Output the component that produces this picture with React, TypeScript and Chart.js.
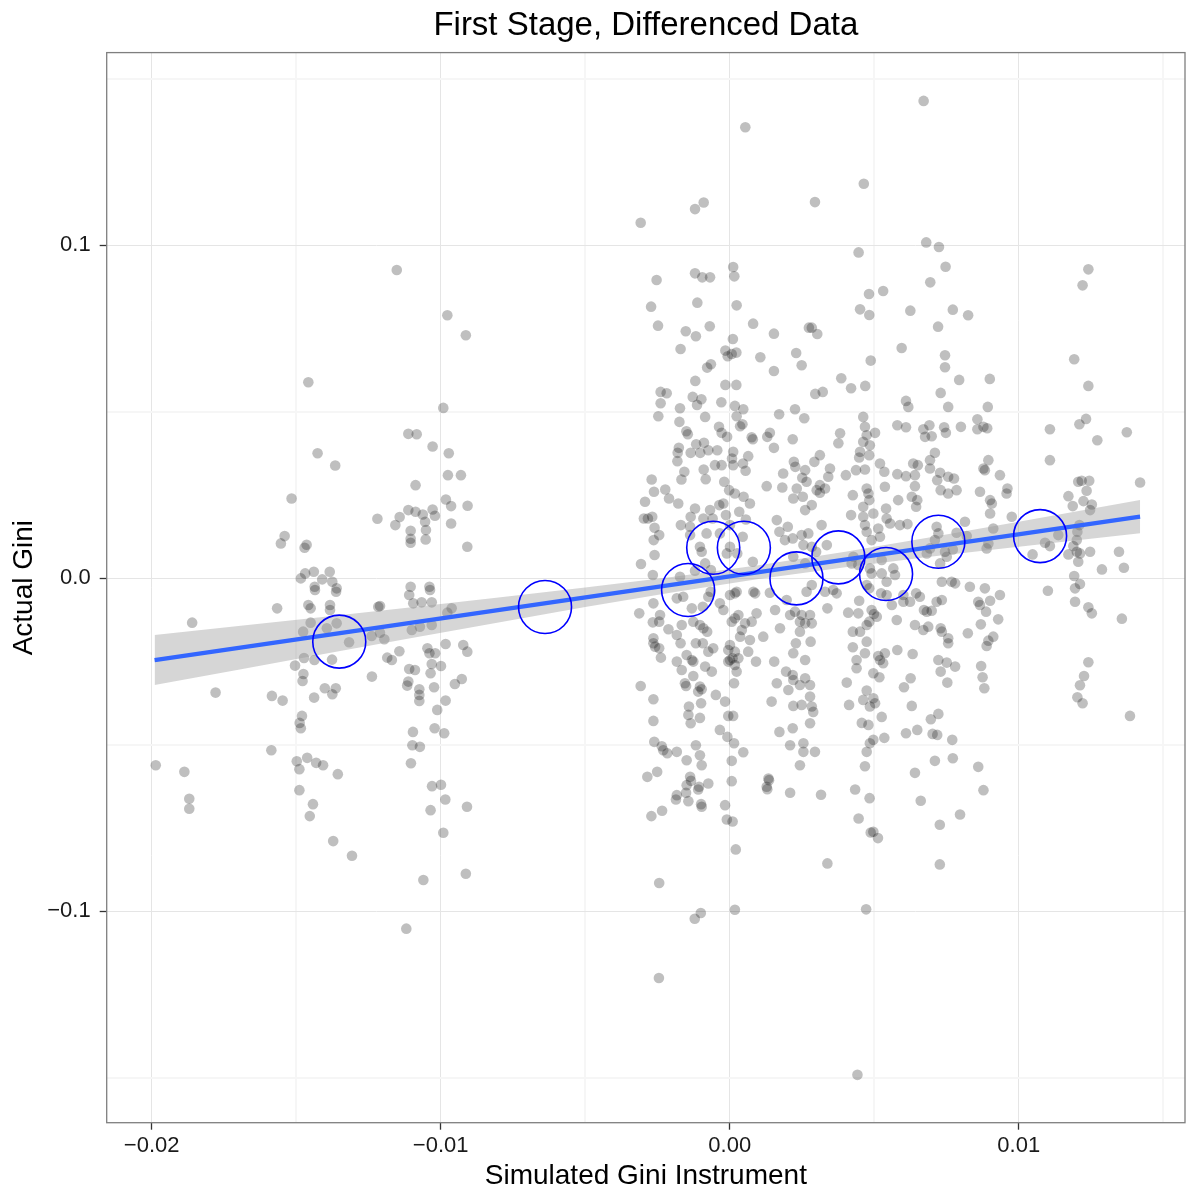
import React, { useEffect, useRef } from 'react';
import { Chart, registerables } from 'chart.js';

Chart.register(...registerables);

const FONT = "'Liberation Sans', Arial, Helvetica, sans-serif";

const chartTitle = 'First Stage, Differenced Data';
const xTitle = 'Simulated Gini Instrument';
const yTitle = 'Actual Gini';

// axis limits (data units)
const xMin = -0.021557;
const xMax = 0.015754;
const yMin = -0.16357;
const yMax = 0.1578;

// grey scatter points [simulated instrument, actual gini]
const leftCluster: [number, number][] = [
  [-0.01152,0.0925],[-0.00977,0.0789],[-0.00913,0.0729],[-0.01458,0.0588],[-0.00991,0.0511],[-0.01112,0.0433],[-0.01083,0.0432],[-0.01028,0.0395],[-0.00972,0.0375],[-0.01426,0.0375],
  [-0.01365,0.0338],[-0.00975,0.0309],[-0.0093,0.0309],[-0.01087,0.0279],[-0.01516,0.0239],[-0.00982,0.0236],[-0.00964,0.0216],[-0.00907,0.0217],[-0.01219,0.0178],[-0.01142,0.0183],
  [-0.01157,0.0159],[-0.01112,0.0204],[-0.01087,0.0199],[-0.01062,0.0191],[-0.01028,0.0206],[-0.0102,0.0187],[-0.01054,0.0169],[-0.00964,0.0164],[-0.01104,0.0142],[-0.01051,0.0144],
  [-0.01104,0.0118],[-0.01104,0.0106],[-0.01052,0.0116],[-0.00908,0.0094],[-0.0154,0.0126],[-0.01553,0.0104],[-0.01464,0.01],[-0.01471,0.0091],[-0.01484,-0.0001],[-0.01469,0.0014],
  [-0.01439,0.0019],[-0.01384,0.0019],[-0.0141,-0.0004],[-0.01375,-0.0011],[-0.01436,-0.0026],[-0.0136,-0.0031],[-0.01104,-0.0026],[-0.01039,-0.0026],
  [-0.0186,-0.0134],[-0.01566,-0.0091],[-0.01458,-0.0081],[-0.0145,-0.0091],[-0.01383,-0.0081],[-0.01383,-0.0096],[-0.01362,-0.0041],[-0.01435,-0.0036],[-0.0145,-0.0134],[-0.01476,-0.0161],
  [-0.01394,-0.0151],[-0.0136,-0.0136],[-0.01317,-0.0193],[-0.01376,-0.0245],[-0.01473,-0.024],[-0.01437,-0.0246],[-0.01504,-0.0263],[-0.01475,-0.0288],[-0.01478,-0.0309],[-0.01779,-0.0344],
  [-0.01584,-0.0354],[-0.01547,-0.0368],[-0.01438,-0.0359],[-0.01401,-0.0331],[-0.01363,-0.0331],[-0.01375,-0.0349],[-0.0148,-0.0414],[-0.01488,-0.0435],[-0.01484,-0.0451],[-0.01586,-0.0517],
  [-0.01986,-0.0562],[-0.01887,-0.0582],[-0.0187,-0.0663],[-0.0187,-0.0693],[-0.01498,-0.055],[-0.01462,-0.054],[-0.01489,-0.0574],[-0.01431,-0.0555],[-0.01407,-0.0562],[-0.01356,-0.0589],
  [-0.01489,-0.0637],[-0.01442,-0.0679],[-0.01453,-0.0715],[-0.01372,-0.079],[-0.01307,-0.0834],[-0.01216,-0.0086],[-0.0121,-0.0084],[-0.01109,-0.0051],[-0.01095,-0.0076],[-0.01066,-0.0073],
  [-0.01031,-0.0073],[-0.01037,-0.0036],[-0.00962,-0.0091],[-0.00977,-0.0104],[-0.01239,-0.0174],[-0.0121,-0.0164],[-0.01195,-0.0184],[-0.011,-0.0156],[-0.01072,-0.0146],[-0.01031,-0.0141],
  [-0.00983,-0.0198],[-0.00922,-0.0201],[-0.00908,-0.0221],[-0.01143,-0.022],[-0.01185,-0.0239],[-0.01169,-0.0246],[-0.01046,-0.0211],[-0.01039,-0.0226],[-0.01019,-0.0226],[-0.00999,-0.0264],
  [-0.01031,-0.0258],[-0.01109,-0.0273],[-0.01089,-0.0276],[-0.01035,-0.0286],[-0.01112,-0.0311],[-0.01116,-0.0323],[-0.01238,-0.0296],[-0.01074,-0.0334],[-0.01074,-0.0351],[-0.01074,-0.0369],
  [-0.01023,-0.0328],[-0.00927,-0.0303],[-0.00951,-0.0318],[-0.00983,-0.0368],[-0.01012,-0.0396],[-0.01096,-0.0462],[-0.01098,-0.0502],[-0.01072,-0.0507],[-0.01021,-0.0451],[-0.00988,-0.0466],
  [-0.01103,-0.0556],[-0.0103,-0.0625],[-0.00999,-0.0621],[-0.00984,-0.0665],[-0.01035,-0.0697],[-0.00909,-0.0687],[-0.00991,-0.0765],[-0.0106,-0.0907],[-0.00913,-0.0888],[-0.01119,-0.1053],
];

const centerUpper: [number, number][] = [
  [0.00054,0.1354],[-0.00308,0.1067],[-0.0012,0.1108],[-0.0009,0.1128],[0.00295,0.1129],[-0.00253,0.0895],[-0.0012,0.0915],[-0.00095,0.0903],[-0.00068,0.0903],[0.00012,0.0934],
  [0.00016,0.0906],[-0.00272,0.0815],[-0.00112,0.0827],[0.00024,0.0819],[-0.00248,0.0758],[-0.00152,0.0741],[-0.00117,0.0726],[-0.00069,0.0756],[0.00081,0.0764],[0.00153,0.0734],
  [0.00274,0.0752],[0.00284,0.0752],[0.00303,0.0733],[0.00011,0.0718],[-0.0017,0.0688],[-0.00015,0.0683],[-0.00007,0.0666],[0.00023,0.0677],[0.00007,0.0673],[0.00106,0.0663],
  [0.0023,0.0676],[0.00249,0.0639],[0.00153,0.0622],[-0.00078,0.0632],[-0.00065,0.0642],[-0.00119,0.0592],[-0.00015,0.058],[0.00023,0.058],[-0.00239,0.0559],[-0.00218,0.0555],
  [-0.00128,0.0544],[-0.00098,0.0537],[-0.00239,0.0525],[-0.00172,0.051],[-0.00113,0.052],[-0.00029,0.0528],[0.00018,0.0517],[0.00047,0.0507],[0.00226,0.0507],[0.00296,0.0553],
  [0.00671,0.1433],[0.00464,0.1184],[0.0068,0.1008],[0.00724,0.0994],[0.00446,0.0978],[0.00747,0.0935],[0.00694,0.0888],[0.00482,0.0853],[0.00531,0.0862],[0.00451,0.0807],
  [0.00483,0.079],[0.00625,0.0803],[0.00772,0.0806],[0.00825,0.0789],[0.00721,0.0755],[0.00595,0.0691],[0.00488,0.0653],[0.00745,0.0669],[0.00745,0.0633],[0.00386,0.06],
  [0.0042,0.057],[0.00469,0.0577],[0.00794,0.0595],[0.009,0.0598],[0.00322,0.0559],[0.0073,0.0556],[0.0061,0.0532],[0.00618,0.0514],[0.00756,0.0514],[0.00893,0.0514],
];

const centerMiddle: [number, number][] = [
  [-0.00247,0.0486],[-0.00085,0.0484],[0.00024,0.0486],[0.00044,0.0462],[0.00036,0.0456],[-0.00174,0.0469],[0.00171,0.0492],[0.00258,0.048],[-0.0015,0.0441],[-0.00145,0.0432],
  [-0.00037,0.0454],[-0.00028,0.0436],[-0.00009,0.0424],[0.00076,0.0423],[0.0008,0.0417],[0.00139,0.0436],[0.0013,0.0424],[0.00153,0.0391],[0.00218,0.0417],[-0.00176,0.0391],
  [-0.0018,0.0376],[-0.00181,0.0351],[-0.00135,0.0376],[-0.00116,0.0402],[-0.00089,0.0406],[-0.00102,0.0376],[-0.00074,0.0384],[-0.00043,0.0384],[0.00012,0.0379],[0.00008,0.0359],
  [0.00064,0.0366],[0.00046,0.0344],[-0.00051,0.0339],[-0.00028,0.0339],[0.00012,0.0339],[0.00055,0.0322],[-0.0009,0.0326],[-0.00157,0.0319],[-0.00167,0.0296],[-0.00083,0.0297],
  [-0.00019,0.0289],[-0.0027,0.0296],[-0.00223,0.0266],[-0.00262,0.0259],[-0.0021,0.0239],[-0.00178,0.0224],[-0.00293,0.0229],[-0.00002,0.0264],[0.00018,0.0254],[0.00048,0.0244],
  [0.0007,0.0224],[0.00128,0.0276],[0.00182,0.0272],[0.00227,0.0334],[0.00222,0.0349],[0.00185,0.0314],[0.00261,0.0324],[0.00293,0.0349],[0.00251,0.0301],[0.00266,0.0289],
  [0.00232,0.0269],[0.0022,0.0239],[0.00253,0.0244],[0.00284,0.0219],[0.00261,0.0204],[0.00301,0.0264],[-0.00022,0.0224],[-0.00036,0.0219],[-0.00068,0.0204],[-0.0012,0.0209],
  [-0.00135,0.0184],[-0.00091,0.0179],[-0.00059,0.0179],[-0.00013,0.0189],[0.00033,0.0199],[0.00056,0.0176],[-0.00283,0.0179],[-0.00268,0.0184],[-0.00297,0.0179],[-0.0026,0.0151],
  [-0.00244,0.0129],[-0.00263,0.0114],[-0.00169,0.0159],[-0.00137,0.0154],[-0.00137,0.0129],[-0.00103,0.0094],[-0.00097,0.0079],[-0.00085,0.0044],[-0.0008,0.0134],[-0.00034,0.0134],
  [0.00001,0.0159],[0.00045,0.0124],[0.00001,0.0094],[-0.0001,0.0074],[0.00026,0.0074],[0.0008,0.0049],[-0.0026,0.0069],[-0.00307,0.0042],[-0.00266,0.0009],[-0.00172,0.0004],
  [-0.0012,0.0022],[-0.00065,0.0024],[0.00163,0.0174],[0.00172,0.0139],[0.00201,0.0154],[0.00218,0.0119],[0.00249,0.0129],[0.00272,0.0134],[0.00255,0.0099],[0.00284,0.0094],
  [0.00191,0.0114],[0.0022,0.0064],[0.00261,0.0044],[0.00299,0.0079],[0.00266,-0.0041],[0.00284,-0.0021],[0.00024,-0.0041],[0.00082,-0.0041],[0.00139,-0.0044],[-0.00066,-0.0041],
  [0.00462,0.0484],[0.0058,0.0459],[0.0061,0.0453],[0.0067,0.0447],[0.00691,0.0459],[0.00699,0.0426],[0.00676,0.0424],[0.00742,0.0453],[0.00748,0.0436],[0.008,0.0454],
  [0.00857,0.0477],[0.00878,0.0454],[0.00857,0.0447],[0.00891,0.045],[0.00382,0.0435],[0.00376,0.0405],[0.00503,0.0436],[0.00468,0.0454],[0.00474,0.0429],[0.00462,0.0409],
  [0.00485,0.0399],[0.00451,0.0379],[0.00448,0.0362],[0.00483,0.0369],[0.00312,0.0369],[0.00347,0.0329],[0.00402,0.0309],[0.00341,0.0304],[0.00437,0.0324],[0.00468,0.0326],
  [0.0052,0.0344],[0.00535,0.0319],[0.0058,0.0312],[0.0061,0.0306],[0.00641,0.0309],[0.00635,0.0344],[0.00651,0.0339],[0.00693,0.0354],[0.0071,0.0376],[0.00693,0.0329],
  [0.00728,0.0316],[0.00718,0.0294],[0.00756,0.0304],[0.00776,0.0299],[0.0073,0.0264],[0.00756,0.0254],[0.00785,0.0264],[0.00641,0.0276],[0.00649,0.0234],[0.00645,0.0214],
  [0.0063,0.0244],[0.00474,0.0269],[0.0048,0.0254],[0.00483,0.0234],[0.00426,0.0249],[0.00462,0.0214],[0.00497,0.0194],[0.00537,0.0274],[0.00583,0.0234],[0.00541,0.0209],
  [0.0042,0.0189],[0.00462,0.0184],[0.00468,0.0159],[0.00474,0.0139],[0.00514,0.0149],[0.00543,0.0179],[0.00555,0.0164],[0.00589,0.0159],[0.00615,0.0162],[0.0052,0.0124],
  [0.00491,0.0114],[0.00318,0.0159],[0.00312,0.0279],[0.00312,0.0256],[0.0033,0.0269],[0.00336,0.0099],[0.00866,0.0259],[0.00901,0.0234],[0.00907,0.0224],[0.00961,0.0269],
  [0.00958,0.0254],[0.00935,0.0309],[0.00895,0.0354],[0.00878,0.0329],[0.00883,0.0324],[0.00901,0.0194],[0.00976,0.0184],[0.00814,0.0169],[0.00785,0.0136],[0.0082,0.0126],
  [0.00895,0.0104],[0.00889,0.0089],[0.00912,0.0149],[0.00716,0.0154],[0.00722,0.0134],[0.0071,0.0114],[0.00745,0.0079],[0.00751,0.0064],[0.00772,0.0086],[0.00728,0.0044],
  [0.00693,0.0089],[0.00682,0.0074],[0.00768,-0.0011],[0.00734,-0.0011],[0.0078,-0.0016],[0.00831,-0.0026],[0.00883,-0.0031],[0.00935,-0.0051],[0.00428,0.0064],[0.00422,0.0044],
  [0.00445,0.0039],[0.00485,0.0029],[0.00491,0.0014],[0.00526,0.0014],[0.00526,0.0054],[0.00543,-0.0011],[0.00566,0.0029],[0.00572,0.0009],[0.00474,-0.0021],[0.00483,-0.0031],
  [0.00358,-0.0036],[0.0037,-0.0046],[0.0033,-0.0041],[0.00524,-0.0046],[0.00543,-0.0051],[0.00645,-0.0046],[0.00658,-0.0056],[0.00601,-0.0051],
];

const centerLower: [number, number][] = [
  [-0.00313,-0.0106],[-0.00264,-0.0076],[-0.00241,-0.0111],[-0.00266,-0.0133],[-0.00244,-0.0131],[-0.00212,-0.0154],[-0.00183,-0.0171],[-0.00166,-0.0141],[-0.0017,-0.0196],[-0.00161,-0.0056],
  [-0.00183,-0.0061],[-0.00131,-0.0091],[-0.00093,-0.0086],[-0.00074,-0.0056],[-0.00034,-0.0076],[-0.00022,-0.0096],[0.00001,-0.0051],[0.00018,-0.0046],[0.00088,-0.0046],[-0.00126,-0.0131],
  [-0.00103,-0.0141],[-0.00091,-0.0151],[-0.00078,-0.0161],[-0.00117,-0.0196],[-0.00093,-0.0196],[-0.00074,-0.0221],[-0.00057,-0.0211],[-0.00264,-0.0196],[-0.00258,-0.0206],[-0.00244,-0.0211],
  [-0.00264,-0.0181],[-0.00238,-0.0239],[-0.00149,-0.0231],[-0.00183,-0.0251],[-0.00131,-0.0246],[-0.00126,-0.0251],[-0.00085,-0.0266],[-0.00166,-0.0276],[-0.00126,-0.0294],[-0.00062,-0.0281],
  [-0.00155,-0.0316],[-0.00151,-0.0324],[-0.00103,-0.0326],[-0.00097,-0.0334],[-0.00109,-0.0341],[-0.00308,-0.0324],[-0.00264,-0.0364],[-0.00141,-0.0386],[-0.00143,-0.0411],[-0.00099,-0.0376],
  [-0.00103,-0.042],[-0.00048,-0.0351],[-0.00016,-0.0371],[-0.00135,-0.0436],[-0.00264,-0.0429],[-0.00034,-0.0456],[-0.00008,-0.0477],[0.00015,-0.0496],[-0.00005,-0.0414],[0.00012,-0.0414],
  [-0.00261,-0.0492],[-0.00235,-0.0505],[-0.0023,-0.0517],[-0.00216,-0.0526],[-0.00183,-0.0522],[-0.00117,-0.0502],[-0.00103,-0.0532],[-0.00097,-0.0562],[-0.00149,-0.0547],[0.00007,-0.0549],
  [0.00047,-0.0523],[-0.00251,-0.0582],[-0.00285,-0.0597],[-0.00137,-0.0597],[-0.00134,-0.0609],[-0.00149,-0.0622],[-0.00074,-0.0617],[-0.00106,-0.0627],[0.00007,-0.061],[0.00001,-0.0201],
  [-0.00005,-0.0216],[0.00018,-0.0221],[0.0003,-0.0241],[0.0001,-0.0241],[0.00001,-0.0246],[0.00018,-0.0261],[0.00024,-0.0281],[0.00015,-0.0316],[-0.00005,-0.0251],[0.00064,-0.0221],
  [0.0007,-0.0186],[0.00091,-0.0251],[0.00042,-0.0156],[0.00036,-0.0176],[0.00053,-0.0136],[0.00007,-0.0131],[0.0003,-0.0111],[0.00018,-0.0121],[0.00076,-0.0131],[0.00093,-0.0106],
  [0.00116,-0.0176],[0.00157,-0.0096],[0.00174,-0.0151],[0.00197,-0.0066],[0.00154,-0.0251],[0.00163,-0.0316],[0.00195,-0.0281],[0.00203,-0.0336],[0.0022,-0.0306],[0.00218,-0.0291],
  [0.00243,-0.0321],[0.00261,-0.0301],[0.00278,-0.0321],[0.0022,-0.0226],[0.00229,-0.0196],[0.00261,-0.0246],[0.0028,-0.0191],[0.00145,-0.0371],[0.0022,-0.0384],[0.00249,-0.0381],
  [0.00284,-0.0386],[0.00289,-0.0402],[0.00278,-0.0356],[0.00278,-0.0436],[0.00218,-0.0451],[0.00172,-0.0462],[0.00209,-0.0502],[0.00255,-0.0496],[0.00255,-0.0522],[0.00295,-0.0522],
  [0.00243,-0.0562],[0.00134,-0.0602],[0.00128,-0.0627],[0.00209,-0.0111],[0.00243,-0.0131],[0.00249,-0.0111],[0.00226,-0.0101],[0.00261,-0.0136],[0.00278,-0.0111],[0.00284,-0.0136],
  [0.00243,-0.0161],
  [0.00338,-0.0091],[0.0041,-0.0104],[0.00445,-0.0106],[0.00448,-0.0068],[0.00491,-0.0096],[0.00499,-0.0108],[0.00509,-0.0116],[0.00483,-0.0131],[0.00474,-0.0141],[0.00451,-0.0161],
  [0.00426,-0.0161],[0.00474,-0.0191],[0.00426,-0.0208],[0.00468,-0.0226],[0.00514,-0.0234],[0.0052,-0.0246],[0.00537,-0.0226],[0.00531,-0.0256],[0.0058,-0.0216],[0.00439,-0.0246],
  [0.00439,-0.0271],[0.00497,-0.0286],[0.00518,-0.0298],[0.00405,-0.0314],[0.00474,-0.0338],[0.00462,-0.0366],[0.00497,-0.0361],[0.00503,-0.0376],[0.00485,-0.0386],[0.00413,-0.0381],
  [0.00526,-0.0417],[0.00457,-0.0435],[0.0048,-0.0441],[0.00485,-0.0496],[0.00497,-0.0486],[0.00474,-0.0522],[0.00468,-0.0565],[0.00535,-0.048],[0.00434,-0.0635],[0.00561,-0.0081],
  [0.00578,-0.0126],[0.00601,-0.0071],[0.00624,-0.0071],[0.00672,-0.0096],[0.00682,-0.0101],[0.00699,-0.0098],[0.00716,-0.0071],[0.00734,-0.0066],[0.00641,-0.0141],[0.0067,-0.0156],
  [0.00687,-0.0146],[0.0073,-0.0151],[0.00734,-0.0161],[0.00756,-0.0181],[0.00756,-0.0196],[0.00633,-0.0228],[0.00603,-0.0328],[0.00626,-0.0301],[0.0063,-0.0384],[0.00722,-0.0246],
  [0.00751,-0.0254],[0.0078,-0.0266],[0.0073,-0.0281],[0.00753,-0.0314],[0.00824,-0.0166],[0.00869,-0.0139],[0.0086,-0.0071],[0.00866,-0.0081],[0.00887,-0.0101],[0.00901,-0.0068],
  [0.00929,-0.0124],[0.00912,-0.0176],[0.00895,-0.0188],[0.00889,-0.0204],[0.0087,-0.0264],[0.00875,-0.0298],[0.00881,-0.0331],[0.00696,-0.0424],[0.00722,-0.0408],[0.00649,-0.0456],
  [0.0061,-0.0466],[0.00702,-0.0468],[0.00718,-0.0471],[0.0077,-0.0486],[0.0071,-0.0549],[0.00772,-0.0541],[0.00641,-0.0585],[0.0086,-0.0567],[0.00878,-0.0637],
  [-0.00183,-0.0652],[-0.00186,-0.0665],[-0.00151,-0.0645],[-0.00143,-0.067],[-0.00109,-0.0635],[-0.00099,-0.0679],[-0.00097,-0.0687],[-0.00234,-0.0699],[-0.00271,-0.0715],[-0.00016,-0.0682],
  [-0.0001,-0.0725],[0.0001,-0.0731],[0.00021,-0.0815],[0.0013,-0.0634],[0.00209,-0.0645],[0.00316,-0.0651],[0.00484,-0.0661],[0.00446,-0.0722],[0.00488,-0.0764],[0.00497,-0.0762],
  [0.00513,-0.0781],[0.00338,-0.0857],[0.00661,-0.0669],[0.00797,-0.071],[0.00727,-0.0741],[0.00727,-0.086],[-0.00244,-0.0916],[-0.001,-0.1006],[-0.00121,-0.1023],[0.00018,-0.0996],
  [0.00472,-0.0995],[-0.00245,-0.1201],[0.00442,-0.1492],[0.00136,-0.0607],
];

const rightCluster: [number, number][] = [
  [0.01241,0.0927],[0.01221,0.0879],[0.01192,0.0657],[0.01241,0.0577],[0.01233,0.0478],[0.0121,0.0462],[0.01108,0.0447],[0.01374,0.0438],[0.01272,0.0414],[0.01108,0.0354],
  [0.01206,0.0289],[0.01218,0.0292],[0.01244,0.0292],[0.01235,0.0262],[0.01172,0.0246],[0.01187,0.0216],[0.01224,0.0231],[0.01253,0.0221],[0.01247,0.0204],[0.0142,0.0287],
  [0.01137,0.0129],[0.01091,0.0106],[0.01108,0.0096],[0.01048,0.0071],[0.0121,0.0159],[0.01203,0.0139],[0.01201,0.0114],[0.01189,0.0096],[0.01201,0.0079],[0.01172,0.0071],
  [0.01212,0.0074],[0.01206,0.0049],[0.01247,0.0079],[0.01347,0.0079],[0.01288,0.0026],[0.01364,0.0031],[0.01192,0.0006],[0.01212,-0.0018],[0.01195,-0.0031],[0.01195,-0.0071],
  [0.01101,-0.0038],[0.01241,-0.0088],[0.01253,-0.0106],[0.01357,-0.0122],[0.01241,-0.0253],[0.01226,-0.0294],[0.01212,-0.0322],[0.01203,-0.0358],[0.01221,-0.0376],[0.01385,-0.0414],
];

// binned means (blue open circles)
const binX = [-0.01351, -0.00639, -0.00144, -0.00057, 0.00049, 0.00231, 0.00376, 0.00541, 0.00722, 0.01074];
const binY = [-0.0191, -0.0087, -0.0036, 0.0091, 0.0091, -0.0001, 0.0062, 0.0012, 0.0109, 0.0126];

// linear fit endpoints
const fitX = [-0.0199, 0.0142];
const fitY = [-0.02463, 0.01847];

// confidence band
const bandX = [-0.0199, -0.017, -0.014, -0.011, -0.008, -0.005, -0.002, 0.001, 0.004, 0.007, 0.01, 0.0142];
const bandUpper = [-0.01713, -0.01443, -0.01161, -0.00875, -0.00586, -0.00287, 0.00031, 0.00385, 0.0079, 0.0123, 0.01689, 0.02347];
const bandLower = [-0.03213, -0.02751, -0.02275, -0.01801, -0.01332, -0.00873, -0.00433, -0.00029, 0.00326, 0.00644, 0.00943, 0.01347];

const isMultiple = (v: number, step: number) => Math.abs(v / step - Math.round(v / step)) < 1e-6;
const minusSign = (s: string) => s.replace('-', '\u2212');

const panelBorder = {
  id: 'panelBorder',
  afterDraw(chart: any) {
    const { ctx, chartArea } = chart;
    const { left, top, right, bottom } = chartArea;
    ctx.save();
    ctx.strokeStyle = '#7f7f7f';
    ctx.lineWidth = 1.3;
    ctx.strokeRect(left, top, right - left, bottom - top);
    ctx.restore();
  },
};

export default function App() {
  const ref = useRef<HTMLCanvasElement>(null);

  useEffect(() => {
    if (!ref.current) return;
    const pts = [...leftCluster, ...centerUpper, ...centerMiddle, ...centerLower, ...rightCluster].map(([x, y]) => ({ x, y }));
    const chart = new Chart(ref.current, {
      type: 'scatter',
      data: {
        datasets: [
          {
            label: 'bins',
            type: 'scatter',
            data: binX.map((x, i) => ({ x, y: binY[i] })),
            pointRadius: 26.5,
            pointHoverRadius: 26.5,
            borderColor: '#0000FF',
            borderWidth: 1.6,
            backgroundColor: 'rgba(0,0,0,0)',
            order: 0,
          } as any,
          {
            label: 'fit',
            type: 'line',
            data: fitX.map((x, i) => ({ x, y: fitY[i] })),
            borderColor: '#3366FF',
            borderWidth: 4.3,
            pointRadius: 0,
            fill: false,
            order: 1,
          } as any,
          {
            label: 'upper',
            type: 'line',
            data: bandX.map((x, i) => ({ x, y: bandUpper[i] })),
            borderColor: 'rgba(0,0,0,0)',
            borderWidth: 0,
            pointRadius: 0,
            fill: false,
            order: 2,
          } as any,
          {
            label: 'lower',
            type: 'line',
            data: bandX.map((x, i) => ({ x, y: bandLower[i] })),
            borderColor: 'rgba(0,0,0,0)',
            borderWidth: 0,
            pointRadius: 0,
            fill: '-1',
            backgroundColor: 'rgba(153,153,153,0.4)',
            order: 2,
          } as any,
          {
            label: 'points',
            type: 'scatter',
            data: pts,
            pointRadius: 5.3,
            pointHoverRadius: 5.3,
            borderWidth: 0,
            backgroundColor: 'rgba(0,0,0,0.25)',
            order: 3,
          } as any,
        ],
      },
      options: {
        responsive: false,
        animation: false,
        devicePixelRatio: 1,
        layout: { autoPadding: false, padding: { left: 0, right: 2, top: 0, bottom: 0 } },
        plugins: {
          legend: { display: false },
          tooltip: { enabled: false },
          title: {
            display: true,
            text: chartTitle,
            fullSize: false,
            color: '#000',
            font: { family: FONT, size: 33, weight: 'normal' },
            padding: { top: 6, bottom: 7 },
          },
        } as any,
        scales: {
          x: {
            type: 'linear',
            min: xMin,
            max: xMax,
            afterFit: (s: any) => { s.height = 73.3; s.paddingLeft = 0; s.paddingRight = 0; },
            border: { display: false },
            grid: {
              color: (c: any) => (isMultiple(c.tick.value, 0.01) ? '#E5E5E5' : '#F6F6F6'),
              lineWidth: (c: any) => (isMultiple(c.tick.value, 0.01) ? 1 : 2),
              tickColor: (c: any) => (isMultiple(c.tick.value, 0.01) ? '#333333' : 'rgba(0,0,0,0)'),
              tickLength: 7,
              tickWidth: 1.3,
            },
            ticks: {
              stepSize: 0.005,
              includeBounds: false,
              autoSkip: false,
              maxRotation: 0,
              padding: 3,
              color: '#1a1a1a',
              font: { family: FONT, size: 22 },
              callback: (v: any) => {
                const n = Number(v);
                if (!isMultiple(n, 0.01)) return '';
                return minusSign((Math.round(n * 100) / 100).toFixed(2));
              },
            },
            title: {
              display: true,
              text: xTitle,
              color: '#000',
              font: { family: FONT, size: 28 },
              padding: { top: 0, bottom: 3 },
            },
          } as any,
          y: {
            type: 'linear',
            min: yMin,
            max: yMax,
            afterFit: (s: any) => { s.width = 106.7; s.paddingTop = 0; s.paddingBottom = 0; },
            border: { display: false },
            grid: {
              color: (c: any) => (isMultiple(c.tick.value, 0.1) ? '#E5E5E5' : '#F6F6F6'),
              lineWidth: (c: any) => (isMultiple(c.tick.value, 0.1) ? 1 : 2),
              tickColor: (c: any) => (isMultiple(c.tick.value, 0.1) ? '#333333' : 'rgba(0,0,0,0)'),
              tickLength: 7,
              tickWidth: 1.3,
            },
            ticks: {
              stepSize: 0.05,
              includeBounds: false,
              autoSkip: false,
              padding: 9,
              color: '#1a1a1a',
              font: { family: FONT, size: 22 },
              callback: (v: any) => {
                const n = Number(v);
                if (!isMultiple(n, 0.1)) return '';
                return minusSign((Math.round(n * 10) / 10).toFixed(1));
              },
            },
            title: {
              display: true,
              text: yTitle,
              color: '#000',
              font: { family: FONT, size: 28 },
              padding: { top: 7, bottom: 0 },
            },
          } as any,
        },
      },
      plugins: [panelBorder],
    });
    return () => chart.destroy();
  }, []);

  return (
    <div style={{ position: 'absolute', left: 0, top: 0, width: 1187, height: 1196, background: '#fff' }}>
      <canvas ref={ref} width={1187} height={1196} style={{ display: 'block', width: 1187, height: 1196 }} />
    </div>
  );
}
